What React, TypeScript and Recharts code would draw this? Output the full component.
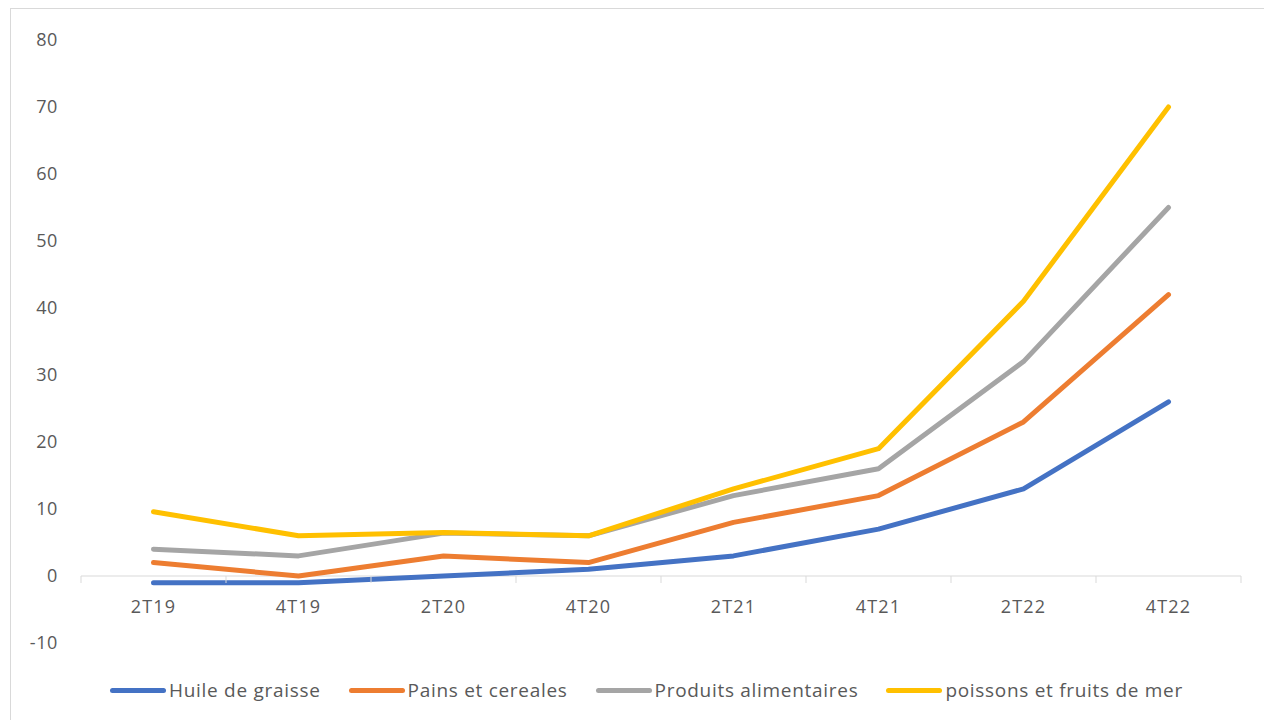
import { LineChart, Line, XAxis, YAxis, ReferenceLine } from "recharts";

const quarters = ["2T19", "4T19", "2T20", "4T20", "2T21", "4T21", "2T22", "4T22"];
const huile = [-1, -1, 0, 1, 3, 7, 13, 26];
const pains = [2, 0, 3, 2, 8, 12, 23, 42];
const produits = [4, 3, 6.4, 6, 12, 16, 32, 55];
const poissons = [9.6, 6, 6.5, 6, 13, 19, 41, 70];
const yTicks = [-10, 0, 10, 20, 30, 40, 50, 60, 70, 80];

const series = [
  { key: "huile", name: "Huile de graisse", color: "#4472C4" },
  { key: "pains", name: "Pains et cereales", color: "#ED7D31" },
  { key: "produits", name: "Produits alimentaires", color: "#A5A5A5" },
  { key: "poissons", name: "poissons et fruits de mer", color: "#FFC000" },
];

const data = quarters.map((q, i) => ({
  name: q,
  huile: huile[i],
  pains: pains[i],
  produits: produits[i],
  poissons: poissons[i],
}));

const W = 1253;
const H = 711;
const M = { top: 31, right: 23, left: 0, bottom: 0 };
const Y_W = 70;
const X_H = 77;
const PLOT_W = W - M.right - Y_W;
const PLOT_H = H - M.top - X_H;
const BAND = PLOT_W / quarters.length;
const Y_MIN = -10;
const Y_MAX = 80;
const FONT = "'Open Sans', sans-serif";

const XTick = (props: any) => {
  const { x, y, payload, index } = props;
  const zeroY = y - ((0 - Y_MIN) / (Y_MAX - Y_MIN)) * PLOT_H;
  return (
    <g>
      <line x1={x - BAND / 2} x2={x - BAND / 2} y1={zeroY} y2={zeroY + 7} stroke="#d9d9d9" />
      {index === quarters.length - 1 && (
        <line x1={x + BAND / 2} x2={x + BAND / 2} y1={zeroY} y2={zeroY + 7} stroke="#d9d9d9" />
      )}
      <text
        x={x}
        y={zeroY + 32}
        textAnchor="middle"
        dominantBaseline="middle"
        fill="#595959"
        fontSize={18}
        letterSpacing={1.2}
        fontFamily={FONT}
      >
        {payload.value}
      </text>
    </g>
  );
};

export default function App() {
  return (
    <div>
      <style>{"body{margin:0;overflow:hidden}"}</style>
      <div
        style={{
          position: "absolute",
          left: 10,
          top: 8,
          width: 1264,
          height: 720,
          border: "1px solid #d9d9d9",
          background: "#fff",
        }}
      >
        <LineChart width={W} height={H} data={data} margin={M}>
          <YAxis
            width={Y_W}
            domain={[Y_MIN, Y_MAX]}
            ticks={yTicks}
            axisLine={false}
            tickLine={false}
            tickMargin={17}
            interval={0}
            tick={{ fill: "#595959", fontSize: 18, fontFamily: FONT, letterSpacing: 0.6 }}
          />
          <XAxis
            dataKey="name"
            height={X_H}
            axisLine={false}
            tickLine={false}
            tickSize={0}
            tickMargin={0}
            interval={0}
            padding={{ left: BAND / 2, right: BAND / 2 }}
            tick={<XTick />}
          />
          <ReferenceLine y={0} stroke="#d9d9d9" strokeWidth={1} />
          {series.map((s) => (
            <Line
              key={s.key}
              type="linear"
              dataKey={s.key}
              name={s.name}
              stroke={s.color}
              strokeWidth={5}
              strokeLinecap="round"
              strokeLinejoin="round"
              dot={false}
              activeDot={false}
              isAnimationActive={false}
            />
          ))}
        </LineChart>
        <div
          style={{
            position: "absolute",
            top: 668,
            left: 0,
            width: W,
            display: "flex",
            justifyContent: "center",
            gap: 28,
            fontFamily: FONT,
            fontSize: 19,
            letterSpacing: 0.7,
            color: "#595959",
            paddingLeft: 18,
            boxSizing: "border-box",
          }}
        >
          {series.map((s) => (
            <div key={s.key} style={{ display: "flex", alignItems: "center" }}>
              <span
                style={{
                  display: "inline-block",
                  width: 56,
                  height: 5,
                  borderRadius: 3,
                  background: s.color,
                  marginRight: 3,
                }}
              />
              <span>{s.name}</span>
            </div>
          ))}
        </div>
      </div>
    </div>
  );
}
